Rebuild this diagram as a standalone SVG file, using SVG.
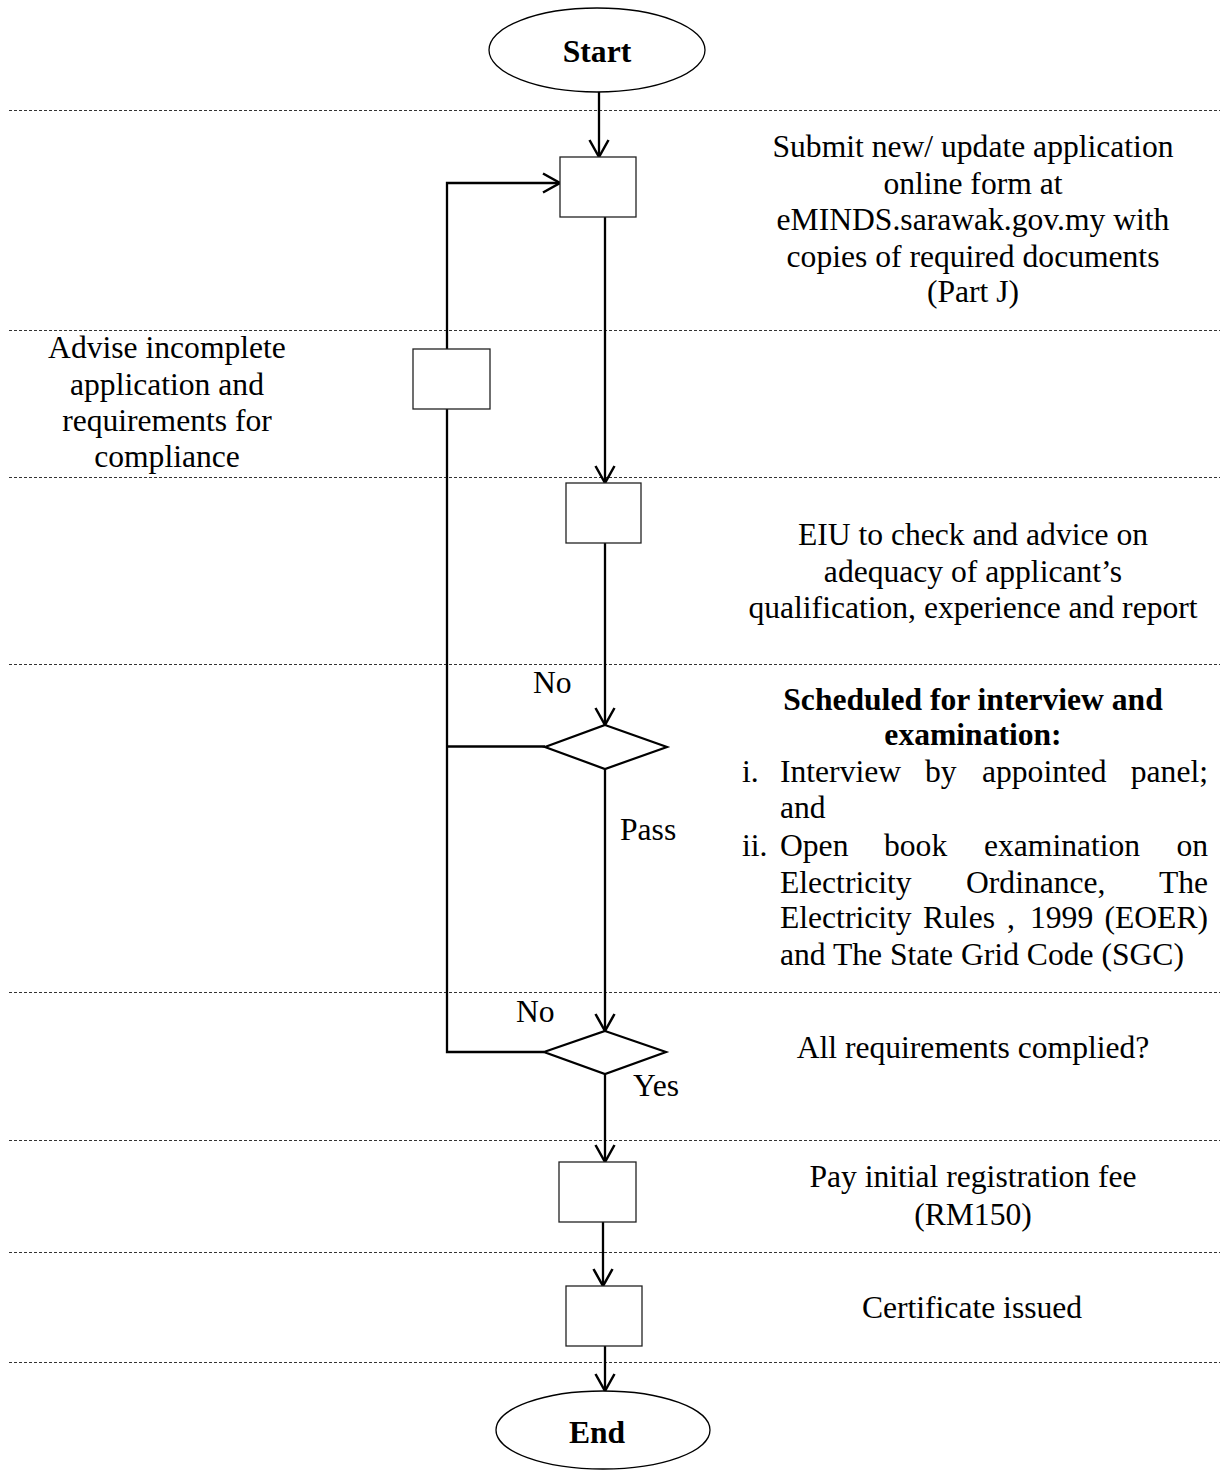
<svg xmlns="http://www.w3.org/2000/svg" width="1220" height="1470" viewBox="0 0 1220 1470">
<style>
text { font-family: "Liberation Serif", "Times New Roman", serif; font-size: 31.6px; fill: #000; }
.c { text-anchor: middle; }
.e { text-anchor: end; }
.b { font-weight: bold; }
.sep { stroke: #333; stroke-width: 1; stroke-dasharray: 3 2; fill: none; }
.box { fill: #fff; stroke: #222; stroke-width: 1.3; }
.dia { fill: #fff; stroke: #000; stroke-width: 2.2; }
.term { fill: #fff; stroke: #000; stroke-width: 1.3; }
.conn { stroke: #000; stroke-width: 2.3; fill: none; }
</style>
<defs>
<marker id="arr" viewBox="-20 -12 24 24" markerWidth="24" markerHeight="24" refX="0" refY="0" markerUnits="userSpaceOnUse" orient="auto">
<path d="M-17,-9.5 L0,0 L-17,9.5" fill="none" stroke="#000" stroke-width="2.5"/>
</marker>
</defs>
<rect width="1220" height="1470" fill="#fff"/>
<g id="separators">
<line class="sep" x1="9" y1="110.5" x2="1220" y2="110.5"/>
<line class="sep" x1="9" y1="330.5" x2="1220" y2="330.5"/>
<line class="sep" x1="9" y1="477.5" x2="1220" y2="477.5"/>
<line class="sep" x1="9" y1="664.5" x2="1220" y2="664.5"/>
<line class="sep" x1="9" y1="992.5" x2="1220" y2="992.5"/>
<line class="sep" x1="9" y1="1140.5" x2="1220" y2="1140.5"/>
<line class="sep" x1="9" y1="1252.5" x2="1220" y2="1252.5"/>
<line class="sep" x1="9" y1="1362.5" x2="1220" y2="1362.5"/>
</g>
<g id="connectors">
<line class="conn" x1="599" y1="92" x2="599" y2="157" marker-end="url(#arr)"/>
<line class="conn" x1="605" y1="217" x2="605" y2="483" marker-end="url(#arr)"/>
<line class="conn" x1="605" y1="543" x2="605" y2="725" marker-end="url(#arr)"/>
<line class="conn" x1="605" y1="769" x2="605" y2="1031" marker-end="url(#arr)"/>
<line class="conn" x1="605" y1="1074" x2="605" y2="1162" marker-end="url(#arr)"/>
<line class="conn" x1="603" y1="1222" x2="603" y2="1286" marker-end="url(#arr)"/>
<line class="conn" x1="605" y1="1346" x2="605" y2="1391" marker-end="url(#arr)"/>
<polyline class="conn" points="545,746.5 447,746.5"/>
<polyline class="conn" points="544,1052 447,1052 447,183 560,183" marker-end="url(#arr)"/>
</g>
<g id="start">
<ellipse class="term" cx="597" cy="50" rx="108" ry="42"/>
<text class="c b" x="597" y="62">Start</text>
</g>
<g id="submit">
<rect class="box" x="560" y="157" width="76" height="60"/>
<text class="c" x="973" y="157">Submit new/ update application</text>
<text class="c" x="973" y="193.5">online form at</text>
<text class="c" x="973" y="230">eMINDS.sarawak.gov.my with</text>
<text class="c" x="973" y="266.5">copies of required documents</text>
<text class="c" x="973" y="302">(Part J)</text>
</g>
<g id="advise">
<rect class="box" x="413" y="349" width="77" height="60"/>
<text class="c" x="167" y="358">Advise incomplete</text>
<text class="c" x="167" y="394.5">application and</text>
<text class="c" x="167" y="431">requirements for</text>
<text class="c" x="167" y="467">compliance</text>
</g>
<g id="check">
<rect class="box" x="566" y="483" width="75" height="60"/>
<text class="c" x="973" y="545">EIU to check and advice on</text>
<text class="c" x="973" y="582">adequacy of applicant’s</text>
<text class="c" x="973" y="618">qualification, experience and report</text>
</g>
<g id="interview">
<polygon class="dia" points="605,725 667,747 605,769 545,747"/>
<text x="533" y="693">No</text>
<text x="620" y="840">Pass</text>
<text class="c b" x="973" y="710">Scheduled for interview and</text>
<text class="c b" x="973" y="745">examination:</text>
<text x="742" y="782">i.</text>
<text x="780" y="782">Interview</text>
<text x="925" y="782">by</text>
<text x="982" y="782">appointed</text>
<text class="e" x="1208" y="782">panel;</text>
<text x="780" y="818">and</text>
<text x="742" y="856">ii.</text>
<text x="780" y="856">Open</text>
<text x="884" y="856">book</text>
<text x="984" y="856">examination</text>
<text class="e" x="1208" y="856">on</text>
<text x="780" y="893">Electricity</text>
<text x="966" y="893">Ordinance,</text>
<text class="e" x="1208" y="893">The</text>
<text x="780" y="928">Electricity</text>
<text x="923" y="928">Rules</text>
<text x="1007" y="928">,</text>
<text x="1030" y="928">1999</text>
<text class="e" x="1208" y="928">(EOER)</text>
<text x="780" y="965">and The State Grid Code (SGC)</text>
</g>
<g id="complied">
<polygon class="dia" points="605,1031 666,1052 605,1074 544,1052"/>
<text x="516" y="1022">No</text>
<text x="633" y="1096">Yes</text>
<text class="c" x="973" y="1058">All requirements complied?</text>
</g>
<g id="pay">
<rect class="box" x="559" y="1162" width="77" height="60"/>
<text class="c" x="973" y="1187">Pay initial registration fee</text>
<text class="c" x="973" y="1225">(RM150)</text>
</g>
<g id="certificate">
<rect class="box" x="566" y="1286" width="76" height="60"/>
<text class="c" x="972" y="1318">Certificate issued</text>
</g>
<g id="end">
<ellipse class="term" cx="603" cy="1430" rx="107" ry="39"/>
<text class="c b" x="597" y="1443">End</text>
</g>
</svg>
